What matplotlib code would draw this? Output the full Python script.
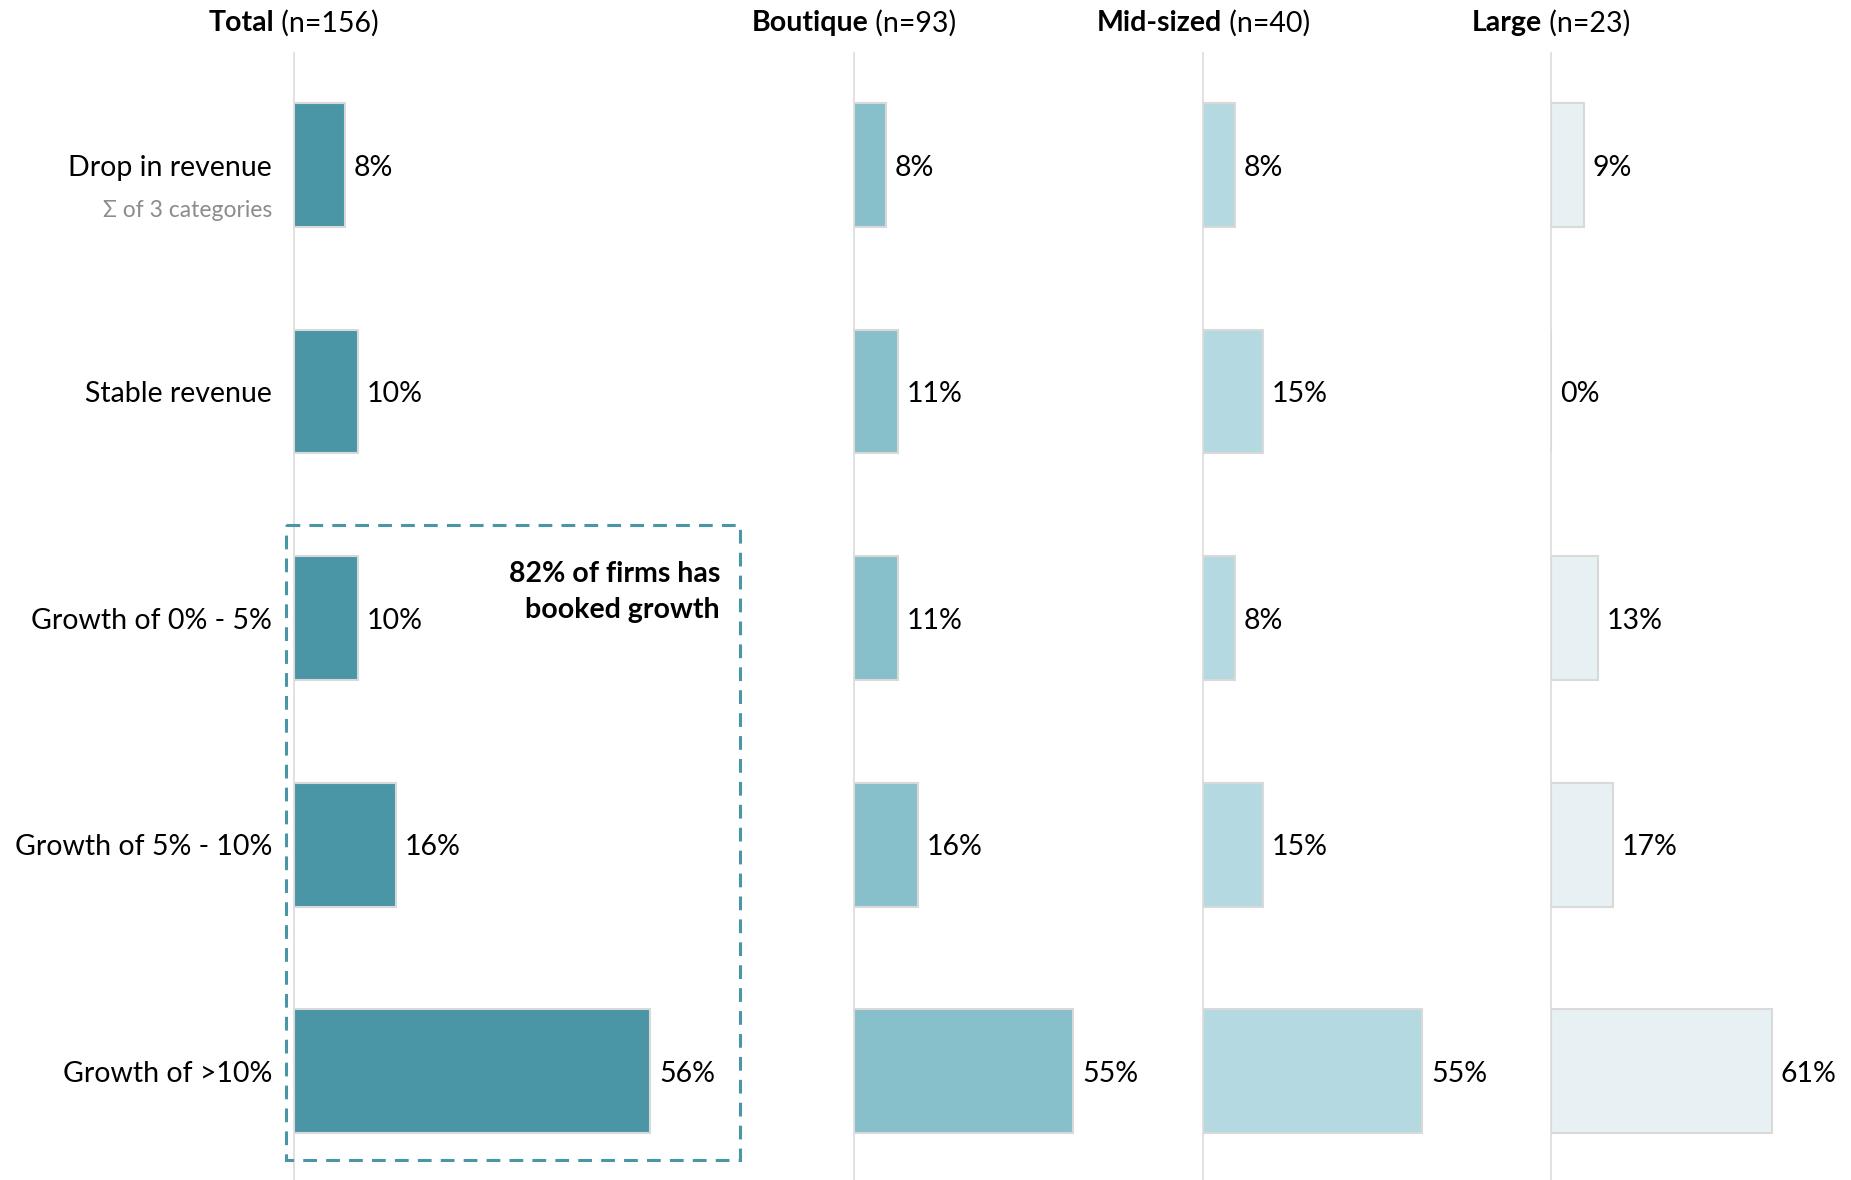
import matplotlib
matplotlib.use("Agg")
import matplotlib.pyplot as plt
from matplotlib.patches import Rectangle

plt.rcParams['font.family'] = ['Liberation Sans Narrow', 'Lato', 'DejaVu Sans']

categories = ["Drop in revenue", "Stable revenue", "Growth of 0% - 5%",
              "Growth of 5% - 10%", "Growth of >10%"]
groups = ["Total", "Boutique", "Mid-sized", "Large"]
sizes = ["(n=156)", "(n=93)", "(n=40)", "(n=23)"]
total = [8, 10, 10, 16, 56]
boutique = [8, 11, 11, 16, 55]
midsized = [8, 15, 8, 15, 55]
large = [9, 0, 13, 17, 61]
series = [total, boutique, midsized, large]
colors = ["#4a95a6", "#87bfca", "#b4d9e0", "#e7f0f2"]

W, H = 1851, 1180
fig = plt.figure(figsize=(W / 100, H / 100), dpi=100)

# panel left edge (px) and pixels per percentage point
panels = [(294, 6.36), (854, 3.98), (1203, 3.99), (1551, 3.62)]
top_px, bot_px = 53, 1180
ylim = (4.48, -0.494)
fs = 20.5
dy = 0.012  # nudge text down onto the bar centres

axes = []
for i, (vals, col) in enumerate(zip(series, colors)):
    left, ppp = panels[i]
    xmax = 70
    ax = fig.add_axes([left / W, 1 - bot_px / H, xmax * ppp / W, (bot_px - top_px) / H])
    ax.set_xlim(0, xmax)
    ax.set_ylim(*ylim)
    ax.barh(range(len(vals)), vals, height=0.547, color=col,
            edgecolor="#d9d9d9", linewidth=1.5, zorder=3)
    for y, v in enumerate(vals):
        ax.text(v + 9 / ppp, y + dy, f"{v}%", va="center", ha="left", fontsize=fs, color="black")
    for s in ["top", "right", "bottom"]:
        ax.spines[s].set_visible(False)
    ax.spines["left"].set_color("#dcdcdc")
    ax.spines["left"].set_linewidth(1.2)
    ax.set_xticks([])
    ax.set_yticks([])
    ax.patch.set_alpha(0)
    axes.append(ax)

ax0 = axes[0]
for y, c in enumerate(categories):
    ax0.text(-22 / panels[0][1], y + dy, c, ha="right", va="center", fontsize=fs)
ax0.text(-22 / panels[0][1], 0.2, "\u03a3 of 3 categories", ha="right", va="center",
         fontsize=16.5, color="#8c8c8c")

# dashed frame around the growth categories
ax0.add_patch(Rectangle((-1.26, 1.59), 71.4, 2.8, fill=False, edgecolor="#4a95a6",
                        linewidth=2.2, linestyle=(0, (4.5, 3)), clip_on=False, zorder=4))
ax0.text(67, 1.885, "82% of firms has\nbooked growth", ha="right", va="center",
         fontsize=fs, fontweight="bold", linespacing=1.5)

# group headers: bold name + regular count, centred on each panel's axis line
renderer = fig.canvas.get_renderer()
for (left, _), g, n in zip(panels, groups, sizes):
    t1 = fig.text(0, 1 - 23 / H, g, fontsize=fs, fontweight="bold", va="center", ha="left")
    t2 = fig.text(0, 1 - 23 / H, " " + n, fontsize=fs, va="center", ha="left")
    w1 = t1.get_window_extent(renderer).width
    w2 = t2.get_window_extent(renderer).width
    x0 = left - (w1 + w2) / 2
    t1.set_x(x0 / W)
    t2.set_x((x0 + w1) / W)

fig.savefig("out.png", dpi=100, facecolor="white")
